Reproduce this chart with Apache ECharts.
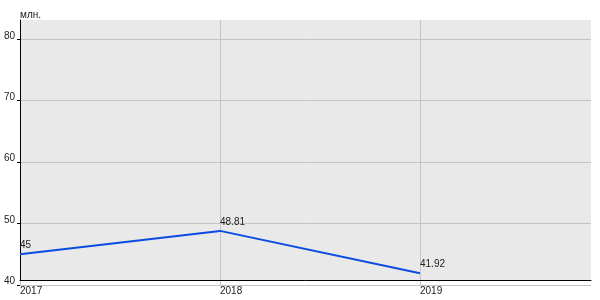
<!DOCTYPE html>
<html><head><meta charset="utf-8">
<script src="https://cdn.jsdelivr.net/npm/echarts@6/dist/echarts.min.js"></script>
<style>html,body{margin:0;padding:0;background:#fff}#c{width:600px;height:300px}</style>
</head><body><div id="c"></div>
<script>
var years = [2017, 2018, 2019];
var values = [45, 48.81, 41.92];
var yTicks = [40, 50, 60, 70, 80];
var xTicks = [2017, 2018, 2019];
var unitLabel = 'млн.';

var FONT = 'Liberation Sans, Arial, sans-serif';
var chart = echarts.init(document.getElementById('c'));
chart.setOption({
  animation: false,
  backgroundColor: '#ffffff',
  grid: [
    {left: 20, right: 9, top: 20, bottom: 15, show: false},
    {left: 20, right: 9, top: 20, bottom: 20, show: true, backgroundColor: '#e9e9e9', borderWidth: 0}
  ],
  xAxis: [
    {gridIndex: 0, type: 'value', min: 2017, max: 2019.855,
     axisLine: {show: false},
     axisTick: {show: false, customValues: xTicks},
     splitLine: {show: true, lineStyle: {color: '#c4c4c4', width: 1}},
     axisLabel: {show: true, customValues: xTicks, align: 'left', verticalAlign: 'top', margin: 1,
       fontFamily: FONT, fontSize: 10, color: '#222',
       formatter: function (v) { return String(v); }}},
    {gridIndex: 1, type: 'value', min: 2017, max: 2019.855,
     axisLine: {show: true, onZero: false, lineStyle: {color: '#000', width: 1}},
     axisTick: {show: false}, axisLabel: {show: false}, splitLine: {show: false}}
  ],
  yAxis: [
    {gridIndex: 0, type: 'value', min: 40, max: 83.14,
     axisLine: {show: false},
     axisTick: {show: true, customValues: yTicks, length: 3, lineStyle: {color: '#000'}},
     splitLine: {show: true, lineStyle: {color: '#c4c4c4', width: 1}},
     axisLabel: {show: true, customValues: yTicks, margin: 5, fontFamily: FONT, fontSize: 10, color: '#222',
       verticalAlign: 'bottom', lineHeight: 7}},
    {gridIndex: 1, type: 'value', min: 0, max: 1,
     name: unitLabel, nameLocation: 'end', nameGap: 0,
     nameTextStyle: {align: 'left', verticalAlign: 'bottom', fontFamily: FONT, fontSize: 10, color: '#222'},
     axisLine: {show: true, onZero: false, lineStyle: {color: '#000', width: 1}},
     axisTick: {show: false}, axisLabel: {show: false}, splitLine: {show: false}}
  ],
  series: [{
    type: 'line', xAxisIndex: 0, yAxisIndex: 0,
    data: years.map(function (y, i) { return [y, values[i]]; }),
    symbol: 'circle', symbolSize: 0, showSymbol: true,
    lineStyle: {color: '#0a4be0', width: 2},
    itemStyle: {color: '#0a4be0'},
    label: {show: true, position: 'top', align: 'left', distance: 4,
      fontFamily: FONT, fontSize: 10, color: '#222',
      formatter: function (p) { return String(p.value[1]); }}
  }]
});
</script></body></html>
